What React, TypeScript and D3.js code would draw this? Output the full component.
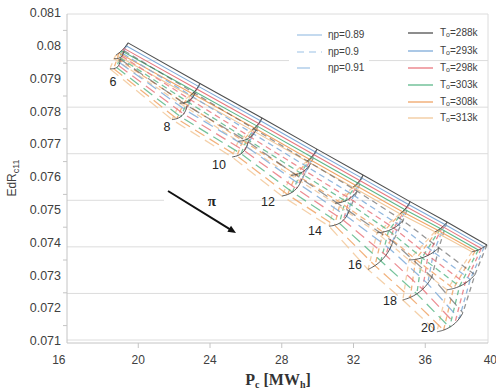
import React from "react";
import * as d3 from "d3";

const W = 496;
const H = 390;

// ---- data ----
const piValues = [6, 8, 10, 12, 14, 16, 18, 20];
const etaValues = [0.89, 0.9, 0.91];
const t0Values = [288, 293, 298, 303, 308, 313];
const t0Colors = ["#4f4f4f", "#7eaad8", "#e9787f", "#5db88a", "#f0a566", "#f2c89a"];

// points for T0 = 288 K, rows = eta_p, columns = pi
const pc288 = [
  [19.43, 23.44, 26.9, 29.96, 32.53, 35.15, 37.21, 39.44],
  [19.21, 23.16, 26.57, 29.63, 32.2, 34.76, 36.76, 38.77],
  [18.98, 22.72, 26.12, 29.12, 31.75, 34.2, 36.37, 38.1],
];
const edr288 = [
  [0.08012, 0.07888, 0.07783, 0.07688, 0.07609, 0.07528, 0.07466, 0.07396],
  [0.07988, 0.07858, 0.07746, 0.07645, 0.0756, 0.0747, 0.07387, 0.07305],
  [0.07963, 0.07821, 0.0771, 0.07597, 0.07499, 0.07406, 0.07298, 0.07189],
];
// points for T0 = 313 K
const pc313 = [
  [18.76, 22.88, 26.34, 29.4, 31.97, 34.59, 36.54, 38.6],
  [18.65, 22.32, 25.57, 28.52, 30.97, 33.31, 35.09, 37.21],
  [18.42, 21.88, 25.23, 28.01, 30.64, 32.81, 34.75, 36.65],
];
const edr313 = [
  [0.07975, 0.07851, 0.07746, 0.07651, 0.07572, 0.07491, 0.07436, 0.07375],
  [0.07964, 0.07828, 0.07712, 0.07608, 0.07523, 0.07433, 0.0735, 0.07259],
  [0.07933, 0.07778, 0.07664, 0.07545, 0.07453, 0.07321, 0.07228, 0.07131],
];
// pi label positions
const piLabelPc = [18.59, 21.6, 24.5, 27.23, 29.85, 32.08, 34.03, 36.15];
const piLabelEdr = [0.078896, 0.077524, 0.076366, 0.075238, 0.074354, 0.073317, 0.07222, 0.071396];

const yTicks = [0.081, 0.08, 0.079, 0.078, 0.077, 0.076, 0.075, 0.074, 0.073, 0.072, 0.071];
const xTicks = [16, 20, 24, 28, 32, 36, 40];

const arrowFrom = [21.66, 0.075604];
const arrowTo = [25.45, 0.074323];
const arrowLabel = [24.11, 0.075238];

const etaDash = [null, "6,4", "11,6"];
const arcBow = [1, 3, 4];

export default function App() {
  const left = 67, right = 488, top = 14, bottom = 343;
  const x = d3.scaleLinear().domain([16, 40]).range([66.5, 497]);
  const y = d3.scaleLinear().domain([0.071, 0.081]).range([342, 14]);
  const grid = d3.scaleLinear().domain([0, 7]).range([14, 340]);
  const line = d3.line();
  const smooth = d3.line().curve(d3.curveCatmullRom);

  const point = (k: number, i: number, j: number): [number, number] => {
    const f = (t0Values[j] - 288) / 25;
    const ax = x(pc288[k][i]), ay = y(edr288[k][i]);
    const bx = x(pc313[k][i]), by = y(edr313[k][i]);
    const cx = bx - ax, cy = by - ay;
    const len = Math.hypot(cx, cy) || 1;
    const nx = cy / len, ny = -cx / len;
    const b = arcBow[k] * 4 * f * (1 - f);
    return [ax + cx * f + nx * b, ay + cy * f + ny * b];
  };

  const font = "'Liberation Sans', Arial, sans-serif";

  const acrossPi: JSX.Element[] = [];
  etaValues.forEach((_, k) => {
    t0Values.forEach((_, j) => {
      const pts = piValues.map((_, i) => point(k, i, j));
      acrossPi.push(
        <path key={`a${k}-${j}`} d={line(pts) || ""} fill="none" stroke={t0Colors[j]}
          strokeWidth={k === 0 ? 1.1 : 1.25} strokeOpacity={k === 0 ? 1 : j === 0 ? 0.6 : 0.85}
          strokeDasharray={etaDash[k] || undefined} />
      );
    });
  });

  const connectors: JSX.Element[] = [];
  piValues.forEach((_, i) => {
    t0Values.forEach((_, j) => {
      const pts = [point(0, i, j), point(1, i, j), point(2, i, j)];
      connectors.push(
        <path key={`c${i}-${j}`} d={line(pts) || ""} fill="none" stroke={t0Colors[j]}
          strokeWidth={1.3} strokeOpacity={j === 0 ? 0.6 : 0.85} strokeDasharray="5,4" />
      );
    });
  });

  const arcs: JSX.Element[] = [];
  etaValues.forEach((_, k) => {
    piValues.forEach((_, i) => {
      const pts = t0Values.map((_, j) => point(k, i, j));
      arcs.push(
        <path key={`r${k}-${i}`} d={smooth(pts) || ""} fill="none" stroke="#4a4a4a" strokeWidth={0.9} />
      );
    });
  });

  const ax1 = x(arrowFrom[0]), ay1 = y(arrowFrom[1]);
  const ax2 = x(arrowTo[0]), ay2 = y(arrowTo[1]);
  const ang = Math.atan2(ay2 - ay1, ax2 - ax1);
  const ah = 8, aw = 3.5;
  const head = [
    [ax2, ay2],
    [ax2 - ah * Math.cos(ang) + aw * Math.sin(ang), ay2 - ah * Math.sin(ang) - aw * Math.cos(ang)],
    [ax2 - ah * Math.cos(ang) - aw * Math.sin(ang), ay2 - ah * Math.sin(ang) + aw * Math.cos(ang)],
  ];

  const etaLegendY = [35, 52, 68];
  const t0LegendY = [33, 51, 68, 85, 102, 118];

  return (
    <svg width={W} height={H} style={{ position: "absolute", left: 0, top: 0, background: "#fff" }}>
      <rect x={0} y={0} width={W} height={H} fill="#fff" />
      {/* gridlines */}
      {d3.range(8).map((n) => (
        <line key={`g${n}`} x1={left} x2={right} y1={grid(n)} y2={grid(n)} stroke="#dcdcdc" strokeWidth={1} />
      ))}
      <line x1={right} x2={right} y1={top} y2={bottom} stroke="#dcdcdc" />
      <line x1={left} x2={left} y1={top} y2={bottom} stroke="#c4c4c4" />
      <line x1={left} x2={right} y1={bottom} y2={bottom} stroke="#c4c4c4" />
      {yTicks.slice(0, -1).map((v, n) => {
        const yy = (y(v) + y(yTicks[n + 1])) / 2;
        return <line key={`yt${n}`} x1={63} x2={left} y1={yy} y2={yy} stroke="#c4c4c4" />;
      })}
      {xTicks.slice(1, -1).map((v) => (
        <line key={`xt${v}`} x1={x(v)} x2={x(v)} y1={bottom} y2={bottom + 5} stroke="#c4c4c4" />
      ))}

      {/* white box behind the arrow */}
      <rect x={164} y={188} width={76} height={50} fill="#fff" />

      {/* data */}
      <g>{connectors}</g>
      <g>{acrossPi}</g>
      <g>{arcs}</g>

      {/* pi labels */}
      {piValues.map((p, i) => (
        <text key={`pl${p}`} x={x(piLabelPc[i])} y={y(piLabelEdr[i])} textAnchor="middle" dominantBaseline="middle"
          fontFamily={font} fontSize={12.5} fill="#262626">{p}</text>
      ))}

      {/* arrow */}
      <line x1={ax1} y1={ay1} x2={ax2 - 5 * Math.cos(ang)} y2={ay2 - 5 * Math.sin(ang)} stroke="#111" strokeWidth={2} />
      <polygon points={head.map((p) => p.join(",")).join(" ")} fill="#111" />
      <text x={x(arrowLabel[0])} y={y(arrowLabel[1])} textAnchor="middle" dominantBaseline="middle"
        fontFamily="'Liberation Serif', serif" fontSize={15} fontWeight="bold" fill="#222">π</text>

      {/* y tick labels */}
      {yTicks.map((v) => (
        <text key={`yl${v}`} x={61} y={y(v)} textAnchor="end" dominantBaseline="middle"
          fontFamily={font} fontSize={12.5} fill="#404040">{String(v)}</text>
      ))}
      {/* x tick labels */}
      {xTicks.map((v, n) => {
        const first = n === 0, last = n === xTicks.length - 1;
        return (
          <text key={`xl${v}`} x={last ? 497 : x(v) + (first ? -1 : 0)} y={361}
            textAnchor={first || last ? "end" : "middle"} dominantBaseline="middle"
            fontFamily={font} fontSize={12} fill="#404040">{v}</text>
        );
      })}

      {/* axis titles */}
      <text transform="translate(16,178) rotate(-90)" textAnchor="middle" fontFamily={font} fontSize={12} fill="#404040">
        EdR<tspan fontSize={9} dy={3}>c11</tspan>
      </text>
      <text x={278} y={385} textAnchor="middle" fontFamily="'Liberation Serif', serif" fontSize={16} fontWeight="bold" fill="#333">
        P<tspan fontSize={10} dy={3}>c</tspan><tspan dy={-3}> [MW</tspan><tspan fontSize={10} dy={3}>h</tspan><tspan dy={-3}>]</tspan>
      </text>

      {/* legend: eta_p */}
      <rect x={289} y={24} width={80} height={52} fill="#fff" />
      {etaValues.map((e, k) => (
        <g key={`le${k}`}>
          <line x1={297} x2={k === 2 ? 310 : 322} y1={etaLegendY[k]} y2={etaLegendY[k]} stroke="#9cc2e5" strokeWidth={1.2}
            strokeDasharray={k === 1 ? "7,5" : undefined} />
          <text x={328} y={etaLegendY[k]} dominantBaseline="middle" fontFamily={font} fontSize={10} fill="#404040">
            ηp={e}
          </text>
        </g>
      ))}
      {/* legend: T0 */}
      {t0Values.map((t, j) => (
        <g key={`lt${t}`}>
          <line x1={408} x2={433} y1={t0LegendY[j]} y2={t0LegendY[j]} stroke={t0Colors[j]} strokeWidth={1.3} />
          <text x={440} y={t0LegendY[j]} dominantBaseline="middle" fontFamily={font} fontSize={10} fill="#404040">
            T<tspan fontSize={7} dy={2}>o</tspan><tspan dy={-2}>={t}k</tspan>
          </text>
        </g>
      ))}
    </svg>
  );
}
